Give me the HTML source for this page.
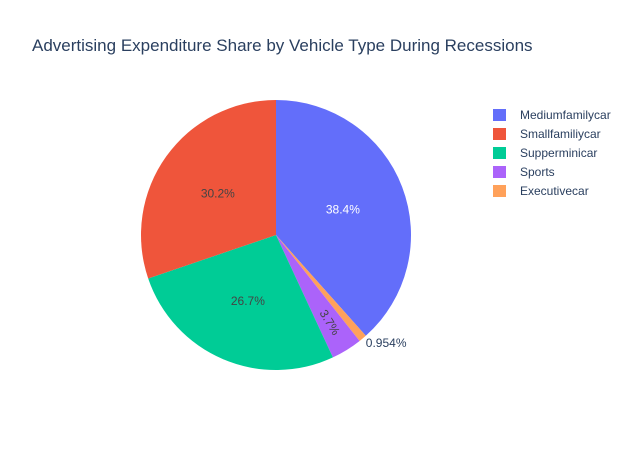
<!DOCTYPE html>
<html><head><meta charset="utf-8"><style>
body{margin:0;background:#fff;font-family:"Liberation Sans",Arial,sans-serif}
svg text{font-family:"Liberation Sans",Arial,sans-serif}
</style></head><body>
<svg id="chart" width="627" height="450">
<rect width="627" height="450" fill="#fff"/>
<text x="32" y="51" font-size="17" fill="#2a3f5f">Advertising Expenditure Share by Vehicle Type During Recessions</text>
<g id="slices"></g>
<g id="legend"></g>
</svg>
<script>
const categories=["Mediumfamilycar","Executivecar","Sports","Supperminicar","Smallfamiliycar"];
const values=[38.4,0.954,3.7,26.7,30.2];
const labels=["38.4%","0.954%","3.7%","26.7%","30.2%"];
const colors=["#636efa","#FFA15A","#ab63fa","#00cc96","#EF553B"];
const legendOrder=["Mediumfamilycar","Smallfamiliycar","Supperminicar","Sports","Executivecar"];
const NS="http://www.w3.org/2000/svg";
const cx=276,cy=235,R=135;
const total=values.reduce((a,b)=>a+b,0);
const g=document.getElementById('slices');
function pt(a,r){return [cx+r*Math.sin(a),cy-r*Math.cos(a)];}
let start=0;
values.forEach((v,i)=>{
  const sw=v/total*2*Math.PI,end=start+sw;
  const p0=pt(start,R),p1=pt(end,R);
  const path=document.createElementNS(NS,'path');
  path.setAttribute('d',`M${cx},${cy}L${p0[0]},${p0[1]}A${R},${R} 0 ${sw>Math.PI?1:0} 1 ${p1[0]},${p1[1]}Z`);
  path.setAttribute('fill',colors[i]);
  
  
  g.appendChild(path);
  const mid=(start+end)/2;
  const t=document.createElementNS(NS,'text');
  t.setAttribute('font-size','12');t.setAttribute('text-anchor','middle');
  const pct=v/total;
  if(pct<0.02){
    const p=pt(mid,R+10);t.setAttribute('x',p[0]+17);t.setAttribute('y',p[1]+1);
    t.setAttribute('fill','#2a3f5f');
  } else if(pct<0.06){
    const p=pt(mid,R*0.76);
    let deg=mid*180/Math.PI-90; if(deg>90)deg-=180;
    t.setAttribute('transform',`translate(${p[0]},${p[1]}) rotate(${deg})`);
    t.setAttribute('y','4');t.setAttribute('fill','#444');
  } else {
    const p=pt(mid,R*0.53);t.setAttribute('x',p[0]);t.setAttribute('y',p[1]+4);
    t.setAttribute('fill',i===0?'#fff':'#444');
  }
  t.textContent=labels[i];
  
  
  g.appendChild(t);
  start=end;
});
const lg=document.getElementById('legend');
legendOrder.forEach((c,j)=>{
  const i=categories.indexOf(c),y=115+j*19;
  const e=document.createElementNS(NS,'g');
  
  
  const r=document.createElementNS(NS,'rect');
  r.setAttribute('x',493);r.setAttribute('y',y-6);r.setAttribute('width',13);r.setAttribute('height',12);
  r.setAttribute('fill',colors[i]);
  const t=document.createElementNS(NS,'text');
  t.setAttribute('x',520);t.setAttribute('y',y+4);t.setAttribute('font-size','12');t.setAttribute('fill','#2a3f5f');
  t.textContent=c;
  e.appendChild(r);e.appendChild(t);lg.appendChild(e);
});
</script>
</body></html>
